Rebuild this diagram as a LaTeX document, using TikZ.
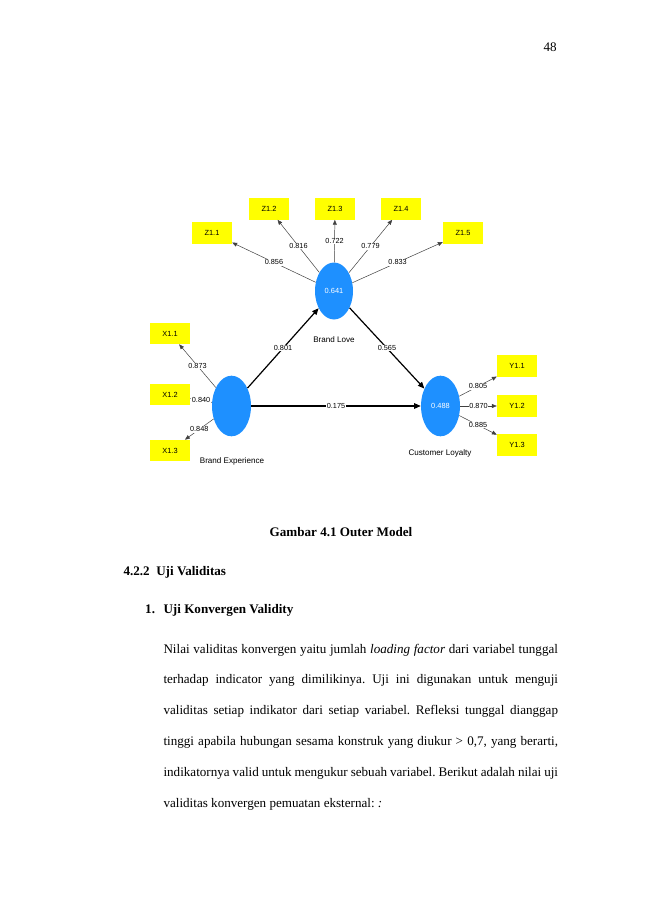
\documentclass[tikz,border=0pt]{standalone}
\usepackage{fontspec}
\setmainfont{Liberation Serif}
\newfontfamily\plsfont{Liberation Sans}
\usetikzlibrary{shapes.geometric,arrows.meta}
\definecolor{lvblue}{RGB}{30,144,255}
\definecolor{indyellow}{RGB}{255,255,0}
\frenchspacing

\begin{document}
\begin{tikzpicture}[x=0.9158pt, y=-0.9158pt,
	latent/.style = {ellipse, fill=lvblue, minimum width=35.7pt, minimum height=55.5pt, inner sep=0pt, text=white, font=\plsfont\fontsize{6.8}{7}\selectfont},
	ind/.style = {rectangle, fill=indyellow, minimum width=36.6pt, minimum height=19.4pt, inner sep=0pt, font=\plsfont\fontsize{6.8}{7}\selectfont},
	lvname/.style = {inner sep=0pt, font=\plsfont\fontsize{7.4}{8}\selectfont},
	val/.style = {fill=white, inner sep=0.6pt, font=\plsfont\fontsize{6.7}{7}\selectfont},
	loading/.style = {draw=black!75, line width=0.45pt, -{Triangle[length=4.5pt,width=3.6pt]}},
	struct/.style = {draw=black, line width=1.1pt, -{Triangle[length=6pt,width=5pt]}},
	body/.style = {inner sep=0pt, font=\fontsize{12}{14}\selectfont}]
	\fill[white] (0,0) rectangle (650,919);
	\useasboundingbox (0,0) rectangle (650,919);

	% page number
	\node[body, anchor=base east] (pg) at (557,51) {48};

	% latent variables
	\node[latent, minimum width=34.8pt, minimum height=52.2pt] (bl) at (334,291) {0.641};
	\node[latent] (be) at (231.5,406) {};
	\node[latent] (cl) at (440.5,406) {0.488};
	\node[lvname] at (334,340) {Brand Love};
	\node[lvname] at (232,461) {Brand Experience};
	\node[lvname] at (440,453) {Customer Loyalty};

	% indicators
	\node[ind] (z1) at (212,233) {Z1.1};
	\node[ind] (z2) at (269,209) {Z1.2};
	\node[ind] (z3) at (335,209) {Z1.3};
	\node[ind] (z4) at (401,209) {Z1.4};
	\node[ind] (z5) at (463,233) {Z1.5};
	\node[ind] (x1) at (170,333.5) {X1.1};
	\node[ind] (x2) at (170,394.5) {X1.2};
	\node[ind] (x3) at (170,450.5) {X1.3};
	\node[ind] (y1) at (517,366) {Y1.1};
	\node[ind] (y2) at (517,406) {Y1.2};
	\node[ind] (y3) at (517,445) {Y1.3};

	% outer loadings
	\draw[loading] (bl) to node[val] {0.856} (z1);
	\draw[loading] (bl) to node[val] {0.816} (z2);
	\draw[loading] (bl) to node[val] {0.722} (z3);
	\draw[loading] (bl) to node[val] {0.779} (z4);
	\draw[loading] (bl) to node[val] {0.833} (z5);
	\draw[loading] (be) to node[val] {0.873} (x1);
	\draw[loading] (be) to node[val] {0.840} (x2);
	\draw[loading] (be) to node[val] {0.848} (x3);
	\draw[loading] (cl) to node[val] {0.805} (y1);
	\draw[loading] (cl) to node[val] {0.870} (y2);
	\draw[loading] (cl) to node[val] {0.885} (y3);

	% inner model
	\draw[struct] (be) to node[val] {0.801} (bl);
	\draw[struct] (bl) to node[val] {0.565} (cl);
	\draw[struct] (be) to node[val] {0.175} (cl);

	% caption and text
	\node[body, anchor=base] (cap) at (341,536.7) {\textbf{Gambar 4.1 Outer Model}};
	\node[body, anchor=base west] (sec) at (123.3,575) {\textbf{4.2.2\hspace{6pt}Uji Validitas}};
	\node[body, anchor=base west] (num) at (145,613.5) {\textbf{1.}};
	\node[body, anchor=base west] (sub) at (163.3,613.5) {\textbf{Uji Konvergen Validity}};
	\node[body, anchor=base west] (l1) at (163.3,653) {\makebox[361.3pt][s]{Nilai validitas konvergen yaitu jumlah \textit{loading factor} dari variabel tunggal}};
	\node[body, anchor=base west] (l2) at (163.3,683.8) {\makebox[361.3pt][s]{terhadap indicator yang dimilikinya. Uji ini digunakan untuk menguji}};
	\node[body, anchor=base west] (l3) at (163.3,714.6) {\makebox[361.3pt][s]{validitas setiap indikator dari setiap variabel. Refleksi tunggal dianggap}};
	\node[body, anchor=base west] (l4) at (163.3,745.4) {\makebox[361.3pt][s]{tinggi apabila hubungan sesama konstruk yang diukur > 0,7, yang berarti,}};
	\node[body, anchor=base west] (l5) at (163.3,776.2) {\makebox[361.3pt][s]{indikatornya valid untuk mengukur sebuah variabel. Berikut adalah nilai uji}};
	\node[body, anchor=base west] (l6) at (163.3,807) {validitas konvergen pemuatan eksternal: \textit{:}};
\end{tikzpicture}
\end{document}
